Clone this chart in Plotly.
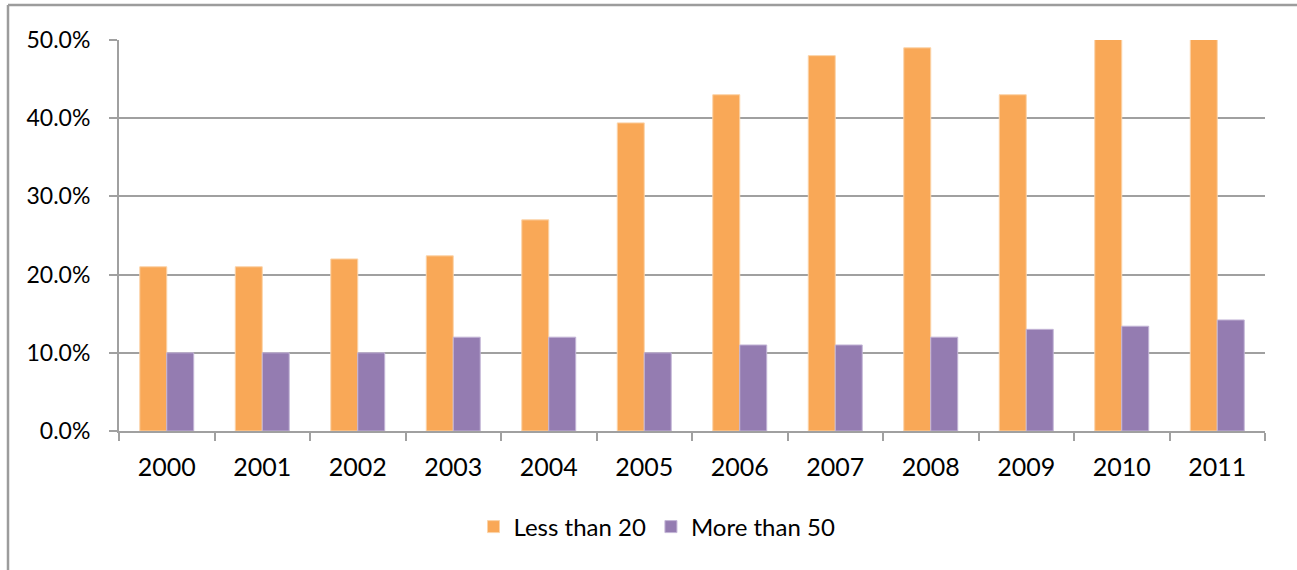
import plotly.graph_objects as go

years = ["2000", "2001", "2002", "2003", "2004", "2005",
         "2006", "2007", "2008", "2009", "2010", "2011"]
less_than_20 = [21.0, 21.0, 22.0, 22.4, 27.0, 39.4, 43.0, 48.0, 49.0, 43.0, 50.5, 50.5]
more_than_50 = [10.0, 10.0, 10.0, 12.0, 12.0, 10.0, 11.0, 11.0, 12.0, 13.0, 13.4, 14.2]

W, H = 1297, 570
ML, MR, MT, MB = 119, 32, 40, 139
PW, PH = W - ML - MR, H - MT - MB

def px_x(x):
    return (x - ML) / PW

def px_y(y):
    return (H - MB - y) / PH

GRID = "#A0A0A0"
FONT = "Lato, Calibri, sans-serif"

fig = go.Figure()
fig.add_trace(go.Bar(x=years, y=less_than_20, name="Less than 20",
                     marker=dict(color="#F9A857", line=dict(color="#FBD3A8", width=1))))
fig.add_trace(go.Bar(x=years, y=more_than_50, name="More than 50",
                     marker=dict(color="#947CB1", line=dict(color="#C3B5D6", width=1))))

fig.update_layout(
    width=W, height=H,
    margin=dict(l=ML, r=MR, t=MT, b=MB, pad=0),
    paper_bgcolor="white", plot_bgcolor="white",
    barmode="group", bargap=0.435, bargroupgap=0,
    font=dict(family=FONT, size=23, color="#000000"),
    showlegend=True,
    legend=dict(orientation="h", x=px_x(657), xanchor="center",
                y=px_y(527), yanchor="middle",
                font=dict(family=FONT, size=24), itemwidth=30,
                bgcolor="rgba(0,0,0,0)"),
    xaxis=dict(type="category", showgrid=False, showline=True,
               linecolor=GRID, linewidth=2, ticks="outside", tickson="boundaries",
               ticklen=8, tickcolor=GRID, tickwidth=2, ticklabelstandoff=13,
               tickfont=dict(size=25), fixedrange=True),
    yaxis=dict(range=[0, 50], dtick=10, ticksuffix="%", tickformat=".1f",
               showgrid=True, gridcolor=GRID, gridwidth=2, zeroline=False,
               showline=True, linecolor=GRID, linewidth=2,
               ticks="outside", ticklen=8, tickcolor=GRID, tickwidth=2,
               ticklabelstandoff=14, fixedrange=True),
    shapes=[
        dict(type="line", xref="paper", yref="paper",
             x0=px_x(8), x1=px_x(8), y0=px_y(5), y1=px_y(600),
             line=dict(color="#9C9C9C", width=2.5)),
        dict(type="line", xref="paper", yref="paper",
             x0=px_x(8), x1=px_x(1320), y0=px_y(5), y1=px_y(5),
             line=dict(color="#9C9C9C", width=2.5)),
    ],
    annotations=[
        dict(text=", as a percentage", xref="paper", yref="paper",
             x=px_x(82), y=px_y(3.5), xanchor="left", yanchor="bottom",
             showarrow=False,
             font=dict(family="Liberation Serif, Times New Roman, serif",
                       size=26, color="#000000")),
    ],
)

fig.write_html("out.html")
